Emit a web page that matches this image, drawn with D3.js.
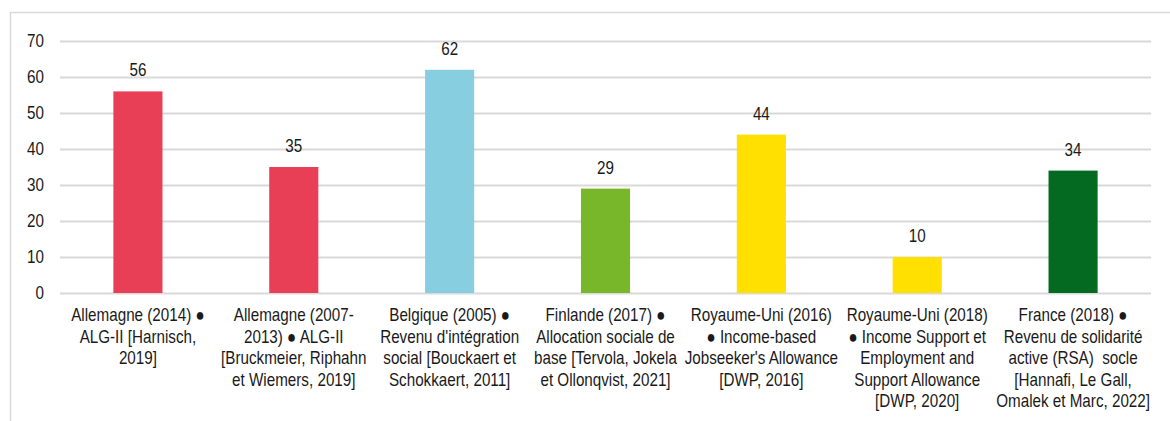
<!DOCTYPE html>
<html>
<head>
<meta charset="utf-8">
<script src="https://cdn.jsdelivr.net/npm/d3@7"></script>
<style>
  body { margin: 0; background: #fff; }
  #chart { width: 1170px; height: 421px; }
  text { font-family: "Liberation Sans", Arial, sans-serif; fill: #1a1a1a; white-space: pre; }
</style>
</head>
<body>
<div id="chart"></div>
<script>
// label kategori (sudah dipecah per baris seperti di gambar)
const CATEGORIES = [
  ["Allemagne (2014) ●", "ALG-II [Harnisch,", "2019]"],
  ["Allemagne (2007-", "2013) ● ALG-II", "[Bruckmeier, Riphahn", "et Wiemers, 2019]"],
  ["Belgique (2005) ●", "Revenu d'intégration", "social [Bouckaert et", "Schokkaert, 2011]"],
  ["Finlande (2017) ●", "Allocation sociale de", "base [Tervola, Jokela", "et Ollonqvist, 2021]"],
  ["Royaume-Uni (2016)", "● Income-based", "Jobseeker's Allowance", "[DWP, 2016]"],
  ["Royaume-Uni (2018)", "● Income Support et", "Employment and", "Support Allowance", "[DWP, 2020]"],
  ["France (2018) ●", "Revenu de solidarité", "active (RSA)  socle", "[Hannafi, Le Gall,", "Omalek et Marc, 2022]"]
];
const VALUES = [56, 35, 62, 29, 44, 10, 34];
const BAR_COLORS = ["#e83e56", "#e83e56", "#86cee0", "#78b72a", "#ffe000", "#ffe000", "#056a21"];
const Y_TICKS = [0, 10, 20, 30, 40, 50, 60, 70];

const data = VALUES.map((v, i) => ({ idx: i, lines: CATEGORIES[i], value: v, color: BAR_COLORS[i] }));

const W = 1170, H = 421;
const margin = { top: 41, right: 19, bottom: 128, left: 60 };
const width  = W - margin.left - margin.right;
const height = H - margin.top - margin.bottom;

// teks di gambar asli agak "dipadatkan" secara horizontal
const FONT = "18px";
const SX = 0.845;

const root = d3.select("#chart").append("svg")
  .attr("width", W)
  .attr("height", H);

// bingkai luar
root.append("path")
  .attr("d", `M10.5,${H} L10.5,12.5 L${W},12.5`)
  .attr("fill", "none")
  .attr("stroke", "#d9d9d9")
  .attr("stroke-width", 1.5);

const svg = root.append("g")
  .attr("transform", `translate(${margin.left},${margin.top})`);

const xScale = d3.scaleBand()
  .domain(data.map(d => d.idx))
  .range([0, width])
  .padding(0);

const yScale = d3.scaleLinear()
  .domain([0, 70])
  .range([height, 0]);

// grid horizontal
svg.append("g")
  .call(d3.axisLeft(yScale).tickValues(Y_TICKS).tickSize(-width).tickFormat(""))
  .call(g => g.select(".domain").remove())
  .call(g => g.selectAll("line").attr("stroke", "#d9d9d9").attr("stroke-width", 2));

// label sumbu y
svg.append("g")
  .call(d3.axisLeft(yScale).tickValues(Y_TICKS).tickSize(0).tickPadding(16))
  .call(g => g.select(".domain").remove())
  .call(g => g.selectAll("text")
    .attr("x", -16 / SX)
    .attr("transform", `scale(${SX},1)`)
    .attr("font-size", FONT)
    .attr("font-family", "Liberation Sans, Arial, sans-serif")
    .attr("fill", "#1a1a1a"));

const barW = xScale.bandwidth() * 0.315;

// batang
svg.selectAll(".bar")
  .data(data)
  .enter()
  .append("rect")
  .attr("class", "bar")
  .attr("x", d => xScale(d.idx) + (xScale.bandwidth() - barW) / 2)
  .attr("width", barW)
  .attr("y", d => yScale(d.value))
  .attr("height", d => height - yScale(d.value))
  .attr("fill", d => d.color);

// angka di atas batang
svg.selectAll(".val")
  .data(data)
  .enter()
  .append("text")
  .attr("class", "val")
  .attr("transform", d => `translate(${xScale(d.idx) + xScale.bandwidth() / 2},${yScale(d.value) - 15}) scale(${SX},1)`)
  .attr("text-anchor", "middle")
  .attr("font-size", FONT)
  .text(d => d.value);

// label kategori multi-baris
const labels = svg.selectAll(".cat")
  .data(data)
  .enter()
  .append("text")
  .attr("class", "cat")
  .attr("text-anchor", "middle")
  .attr("font-size", FONT)
  .attr("transform", d => `translate(${xScale(d.idx) + xScale.bandwidth() / 2},${height + 28}) scale(${SX},1)`);

labels.selectAll("tspan")
  .data(d => d.lines)
  .enter()
  .append("tspan")
  .attr("x", 0)
  .attr("y", (l, i) => i * 21.6)
  .text(l => l);
</script>
</body>
</html>
